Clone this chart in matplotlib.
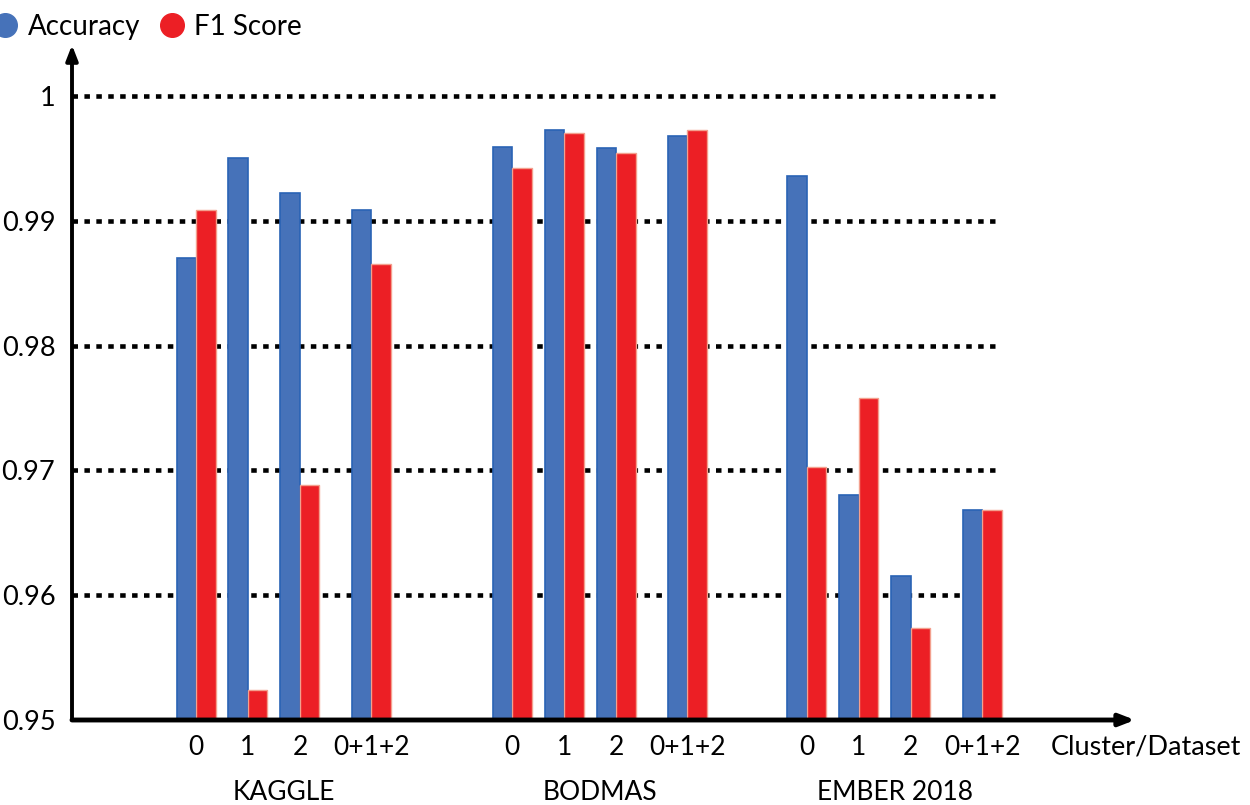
import matplotlib
matplotlib.use("Agg")
import matplotlib.pyplot as plt
from matplotlib.lines import Line2D

plt.rcParams['font.family'] = ['Lato', 'DejaVu Sans']

datasets = ["KAGGLE", "BODMAS", "EMBER 2018"]
clusters = ["0", "1", "2", "0+1+2"]
acc_kaggle = [0.9870, 0.9950, 0.9922, 0.9909]
f1_kaggle = [0.9909, 0.9524, 0.9688, 0.9865]
acc_bodmas = [0.9959, 0.9973, 0.9958, 0.9968]
f1_bodmas = [0.9942, 0.9970, 0.9954, 0.9973]
acc_ember = [0.9936, 0.9680, 0.9615, 0.9668]
f1_ember = [0.9703, 0.9758, 0.9574, 0.9668]
yticks = [0.95, 0.96, 0.97, 0.98, 0.99, 1.0]
ytick_labels = ["0.95", "0.96", "0.97", "0.98", "0.99", "1"]

accs = [acc_kaggle, acc_bodmas, acc_ember]
f1s = [f1_kaggle, f1_bodmas, f1_ember]

BLUE = '#4672B9'
BLUE_E = '#2A63B5'
RED = '#EC1F25'
RED_E = '#F3A08E'

fig = plt.figure(figsize=(12.5, 8.05), dpi=100)
ax = fig.add_axes([72/1250, (805-720)/805, (1135-72)/1250, (720-45)/805])

offsets_in_group = [0, 1, 2, 3.37]
group_starts = [0, 6.08, 11.75]
w = 0.375

ymin, ymax = 0.95, 1.0 + 51/124.8*0.01
xmin, xmax = -2.385, 18.06
ax.set_xlim(xmin, xmax)
ax.set_ylim(ymin, ymax)

# gridlines
for yv in yticks[1:]:
    ax.plot([xmin, 15.37], [yv, yv], color='black', lw=3.3,
            linestyle=(0, (1.2, 1.4)), zorder=1, solid_capstyle='butt')

xt, xl = [], []
for g, start in enumerate(group_starts):
    pos = [start + o for o in offsets_in_group]
    ax.bar([p - w/2 for p in pos], [a - ymin for a in accs[g]], width=w, bottom=ymin,
           color=BLUE, edgecolor=BLUE_E, linewidth=1.2, zorder=2)
    ax.bar([p + w/2 for p in pos], [f - ymin for f in f1s[g]], width=w, bottom=ymin,
           color=RED, edgecolor=RED_E, linewidth=1.0, zorder=2)
    xt += pos
    xl += clusters
    center = (pos[0] + pos[-1]) / 2
    ax.text(center, -0.108, datasets[g], transform=ax.get_xaxis_transform(),
            ha='center', va='center', fontsize=19)

ax.set_xticks(xt)
ax.set_xticklabels(xl, fontsize=19)
ax.set_yticks(yticks)
ax.set_yticklabels(ytick_labels, fontsize=19.5)
ax.tick_params(axis='both', length=0)
ax.tick_params(axis='x', pad=11)
ax.tick_params(axis='y', pad=12)

for s in ax.spines.values():
    s.set_visible(False)

# axis arrows
ax.annotate('', xy=(0, 1.0), xytext=(0, 0), xycoords='axes fraction',
            arrowprops=dict(arrowstyle='-|>,head_length=0.9,head_width=0.35',
                            color='black', lw=2.8, shrinkA=0, shrinkB=0), zorder=5)
ax.annotate('', xy=(1.0, 0), xytext=(0, 0), xycoords='axes fraction',
            arrowprops=dict(arrowstyle='-|>,head_length=0.9,head_width=0.35',
                            color='black', lw=3.5, shrinkA=0, shrinkB=0), zorder=5)

fig.text(1051/1250, 1 - 747/805, "Cluster/Dataset", ha='left', va='center', fontsize=19.5)

handles = [Line2D([], [], marker='o', linestyle='none', markersize=17, color=BLUE),
           Line2D([], [], marker='o', linestyle='none', markersize=17, color=RED)]
fig.legend(handles, ["Accuracy", "F1 Score"], loc='upper left',
           bbox_to_anchor=(-0.029, 1.014), ncol=2, frameon=False, fontsize=20,
           handletextpad=0.2, columnspacing=0.55, handlelength=1.2)

fig.savefig("out.png", dpi=100)
